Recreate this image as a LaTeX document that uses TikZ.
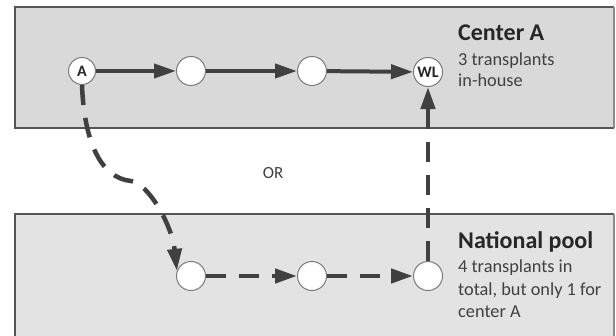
\documentclass[tikz,border=0pt]{standalone}
\usepackage{fontspec}
\setmainfont{Carlito}
\usetikzlibrary{arrows.meta}
\definecolor{topgray}{HTML}{D9D9D9}
\definecolor{poolgray}{HTML}{E3E3E3}
\definecolor{boxline}{HTML}{555555}
\definecolor{boxedge}{HTML}{8C8C8C}
\definecolor{ringgray}{HTML}{7A7A7A}
\definecolor{arrowgray}{HTML}{404040}
\definecolor{inkgray}{HTML}{262626}
\begin{document}
\begin{tikzpicture}[x=1pt,y=-1pt,
  panel/.style={draw=boxline, line width=1.5pt},
  stop/.style={circle, draw=ringgray, fill=white, line width=1pt, inner sep=0pt,
               minimum size=29pt, text=inkgray, font=\fontsize{16}{16}\selectfont\bfseries},
  tagged/.style={stop, minimum size=27pt},
  flow/.style={line width=4pt, draw=arrowgray, -{Triangle[length=22pt,width=14pt]}},
  pooled/.style={flow, line width=4.5pt, dash pattern=on 20pt off 13pt},
  heading/.style={anchor=base west, inner sep=0pt, text=inkgray,
                  font=\fontsize{24}{28}\selectfont\bfseries},
  note/.style={anchor=base west, inner sep=0pt, text=arrowgray,
               font=\fontsize{18.3}{22}\selectfont}]
\useasboundingbox (0,0) rectangle (616,335);
\fill[white] (0,0) rectangle (616,335);

% the two panels
\fill[topgray] (15,7) rectangle (614,128);
\draw[panel] (614,7) -- (15,7) -- (15,128) -- (614,128);
\draw[draw=boxedge, line width=1.2pt] (614,7) -- (614,128);
\fill[poolgray] (15,214) rectangle (614,340);
\draw[panel] (15,340) -- (15,214) -- (614,214);
\draw[draw=boxedge, line width=1.2pt] (614,214) -- (614,340);

% in-house chain
\node[tagged] (A)  at (82,71)  {A};
\node[stop]   (c2) at (191,71) {};
\node[stop]   (c3) at (312,71) {};
\node[stop]   (WL) at (428,72) {WL};

% national pool chain
\node[stop] (b1) at (191,276) {};
\node[stop] (b2) at (312,276) {};
\node[stop] (b3) at (428,276) {};

\coordinate (bend) at (131,181);

\draw[flow] (A) -- (c2);
\draw[flow] (c2) -- (c3);
\draw[flow] (c3) -- (WL);

\draw[pooled] (A.south) .. controls (84,140) and (100,178) .. (bend)
                        .. controls (148,183) and (172,225) .. (b1.160);
\draw[pooled] (b1) -- (b2);
\draw[pooled] (b2) -- (b3);
\draw[pooled] (b3) -- (WL);

\node[font=\fontsize{17}{17}\selectfont, text=arrowgray] (or) at (273,173) {OR};

% panel captions
\node[heading] (ctitle) at (458,40) {Center A};
\node[note] (cl1) at (458,65) {3 transplants};
\node[note] (cl2) at (458,86) {in-house};

\node[heading] (ntitle) at (458,248) {National pool};
\node[note] (nl1) at (458,272) {4 transplants in};
\node[note] (nl2) at (458,295) {total, but only 1 for};
\node[note] (nl3) at (458,317) {center A};
\end{tikzpicture}
\end{document}
